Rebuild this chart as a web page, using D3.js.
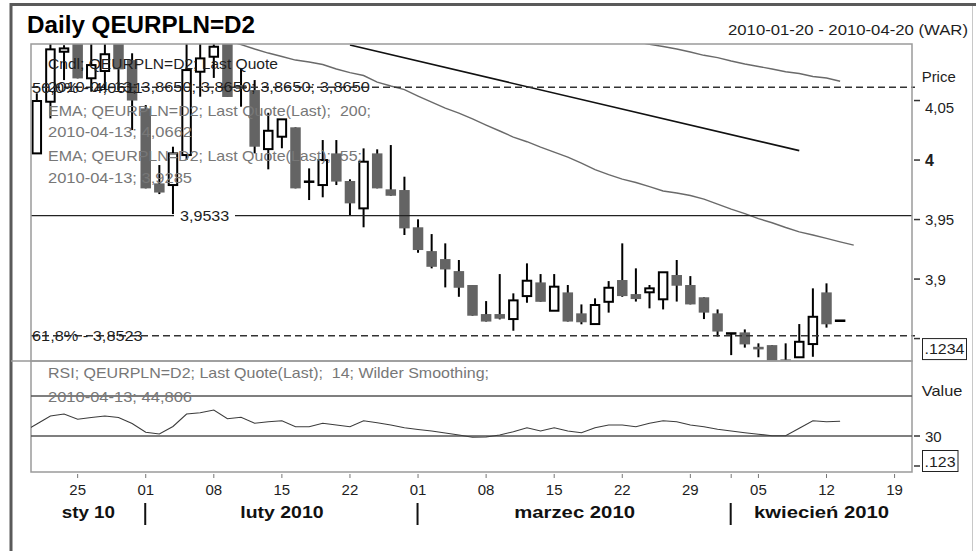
<!DOCTYPE html>
<html><head><meta charset="utf-8">
<script src="https://cdn.jsdelivr.net/npm/d3@7"></script>
<style>
body{margin:0;background:#fff}
svg{display:block}
text{font-family:"Liberation Sans",Arial,Helvetica,sans-serif;white-space:pre}
</style>
</head><body>
<svg id="c" width="976" height="551"></svg>
<script>
// ---------------- DATA ----------------
const dates = [
"2010-01-20","2010-01-21","2010-01-22","2010-01-25","2010-01-26","2010-01-27","2010-01-28","2010-01-29",
"2010-02-01","2010-02-02","2010-02-03","2010-02-04","2010-02-05","2010-02-08","2010-02-09","2010-02-10","2010-02-11","2010-02-12",
"2010-02-15","2010-02-16","2010-02-17","2010-02-18","2010-02-19","2010-02-22","2010-02-23","2010-02-24","2010-02-25","2010-02-26",
"2010-03-01","2010-03-02","2010-03-03","2010-03-04","2010-03-05","2010-03-08","2010-03-09","2010-03-10","2010-03-11","2010-03-12",
"2010-03-15","2010-03-16","2010-03-17","2010-03-18","2010-03-19","2010-03-22","2010-03-23","2010-03-24","2010-03-25","2010-03-26",
"2010-03-29","2010-03-30","2010-03-31","2010-04-01","2010-04-02","2010-04-05","2010-04-06","2010-04-07","2010-04-08","2010-04-09",
"2010-04-12","2010-04-13"];
const futureDates = ["2010-04-14","2010-04-15","2010-04-16","2010-04-19","2010-04-20"];

const open  = [4.0056,4.0490,4.0910,4.1050,4.0687,4.0748,4.1040,4.0840,4.0434,3.9804,
               3.9790,4.0042,4.0742,4.0868,4.1050,4.0630,4.0588,4.0092,4.0196,4.0275,
               3.9818,3.9790,4.0056,3.9824,3.9594,4.0056,3.9754,3.9748,3.9435,3.9235,
               3.9168,3.9067,3.8950,3.8706,3.8706,3.8664,3.8857,3.8972,3.8734,3.8888,
               3.8712,3.8622,3.8809,3.8992,3.8874,3.8889,3.8830,3.9034,3.8950,3.8847,
               3.8712,3.8543,3.8552,3.8431,3.8445,3.8325,3.8343,3.8454,3.8888,3.8650];
const high  = [4.0561,4.0990,4.0965,4.1100,4.1020,4.1010,4.1060,4.0897,4.0462,3.9958,
               4.0112,4.0985,4.1000,4.1000,4.1100,4.0770,4.0672,4.0397,4.0342,4.0275,
               3.9930,4.0168,4.0168,3.9838,4.0098,4.0090,4.0126,3.9860,3.9502,3.9378,
               3.9300,3.9160,3.8950,3.8815,3.9042,3.8880,3.9132,3.9042,3.9042,3.8950,
               3.8787,3.8838,3.8983,3.9300,3.9090,3.8950,3.9057,3.9160,3.9025,3.8847,
               3.8745,3.8543,3.8577,3.8460,3.8445,3.8460,3.8622,3.8922,3.8964,3.8650];
const low   = [4.0056,4.0350,4.0672,4.0686,4.0574,4.0588,4.0588,4.0252,3.9762,3.9714,
               3.9546,4.0000,4.0532,4.0690,4.0530,4.0448,4.0056,3.9922,4.0099,3.9762,
               3.9664,3.9687,3.9790,3.9538,3.9435,3.9762,3.9700,3.9370,3.9221,3.9090,
               3.8930,3.8851,3.8692,3.8643,3.8661,3.8566,3.8801,3.8809,3.8734,3.8643,
               3.8620,3.8622,3.8718,3.8851,3.8811,3.8754,3.8745,3.8811,3.8787,3.8664,
               3.8517,3.8361,3.8424,3.8343,3.8260,3.8260,3.8343,3.8347,3.8592,3.8650];
const close = [4.0496,4.0930,4.0938,4.0686,4.0798,4.0889,4.0762,4.0500,3.9762,3.9727,
               4.0056,4.0756,4.0854,4.0952,4.0530,4.0597,4.0112,4.0246,4.0342,3.9762,
               3.9818,4.0000,3.9819,3.9636,3.9986,3.9762,3.9700,3.9426,3.9244,3.9103,
               3.9081,3.8927,3.8692,3.8643,3.8667,3.8821,3.8986,3.8809,3.8936,3.8643,
               3.8637,3.8782,3.8927,3.8857,3.8832,3.8922,3.9057,3.8944,3.8787,3.8718,
               3.8559,3.8543,3.8451,3.8409,3.8280,3.8300,3.8473,3.8683,3.8620,3.8650];

// EMA 55 from 2010-02-09, EMA 200 from 2010-03-23
const ema55Start = "2010-02-09";
const ema55 = [4.1005,4.0970,4.0933,4.0899,4.0870,4.0840,4.0824,4.0803,4.0765,4.0735,4.0710,4.0655,4.0622,
               4.0592,4.0538,4.0487,4.0437,4.0395,4.0345,4.0294,4.0244,4.0193,4.0154,4.0109,4.0067,
               4.0025,3.9975,3.9920,3.9878,3.9840,3.9811,3.9777,3.9740,3.9723,3.9702,3.9672,3.9630,
               3.9588,3.9550,3.9508,3.9473,3.9433,3.9397,3.9370,3.9342,3.9313,3.9285];
const ema200Start = "2010-03-23";
const ema200 = [4.0995,4.0972,4.0954,4.0933,4.0908,4.0880,4.0861,4.0832,4.0807,4.0786,4.0765,
                4.0742,4.0727,4.0702,4.0689,4.0662];

const trendDates  = ["2010-02-22","2010-04-08"];
const trendValues = [4.0966,4.0079];

const supportLevel = 3.9533;
const fibPct    = ["50,0%","61,8%"];
const fibValues = [4.0611,3.8523];

const priceTicks = [3.9,3.95,4,4.05];
const priceBoxTick = 3.85, priceBoxLabel = ".1234";
const rsiTicks = [30];
const rsiLines = [70,30];
const rsiBoxTick = 0, rsiBoxLabel = ".123";

const rsiPrev = 34.0; // 2010-01-19
const rsi = [42,50,52,46.7,48.5,50,48.5,42.5,33.7,32,39.5,52,53.3,56,47.3,48.7,42.7,44.3,45.3,39.3,
             39.3,42.7,41,39.3,45.3,43.3,41,38.3,36.5,35,33,31,28.7,29,31,34.3,38.3,35,38.3,35,
             33.3,38.3,41,41,39.3,42.7,45.3,44.3,41,39.3,36.7,35,33.3,31.7,30.3,30.3,37.7,45.3,44.3,44.806];

const monthLabels = ["sty 10","luty 2010","marzec 2010","kwiecień 2010"];
const titleText = "Daily QEURPLN=D2";
const rangeText = "2010-01-20 - 2010-04-20 (WAR)";

// ---------------- DRAW ----------------
const svg = d3.select("#c");
const L = 31, R = 912, PT = 44, PB = 361, RB = 472;
const allDates = dates.concat(futureDates);
const idx = d => allDates.indexOf(d);
const x = d3.scaleLinear().domain([-0.5, allDates.length - 0.5]).range([30, 915]);
const y = d3.scaleLinear().domain([3.832, 4.0975]).range([360, 44]);
const yr = d3.scaleLinear().domain([-6, 105]).range([472, 361]);
const comma = (v, n) => d3.format("." + n + "f")(v).replace(".", ",");
const step = x(1) - x(0);

// outer frame
svg.append("line").attr("x1", 10).attr("x2", 976).attr("y1", 4.5).attr("y2", 4.5).attr("stroke", "#5a5a5a").attr("stroke-width", 3);
svg.append("line").attr("x1", 11).attr("x2", 11).attr("y1", 3).attr("y2", 551).attr("stroke", "#5a5a5a").attr("stroke-width", 3);
svg.append("line").attr("x1", 972.5).attr("x2", 972.5).attr("y1", 6).attr("y2", 551).attr("stroke", "#c8c8c8").attr("stroke-width", 1);

// clips
const defs = svg.append("defs");
defs.append("clipPath").attr("id", "cp").append("rect").attr("x", L).attr("y", PT).attr("width", R - L).attr("height", PB - PT);
defs.append("clipPath").attr("id", "cr").append("rect").attr("x", L).attr("y", PB).attr("width", R - L).attr("height", RB - PB);

// title
function T(s, x0, y0, o) {
  const t = svg.append("text").attr("x", x0).attr("y", y0).text(s)
    .attr("font-size", o.size || 15).attr("fill", o.fill || "#1e1e1e");
  if (o.bold) t.attr("font-weight", "bold");
  if (o.len) t.attr("textLength", o.len).attr("lengthAdjust", "spacingAndGlyphs");
  if (o.anchor) t.attr("text-anchor", o.anchor);
  return t;
}

// price panel contents
const gp = svg.append("g").attr("clip-path", "url(#cp)");
// candles
dates.forEach((d, i) => {
  const cx = x(i);
  gp.append("line").attr("x1", cx).attr("x2", cx).attr("y1", y(high[i])).attr("y2", y(low[i]))
    .attr("stroke", "#000").attr("stroke-width", 2);
  if (Math.abs(open[i] - close[i]) < 1e-9) {
    gp.append("line").attr("x1", cx - 5.25).attr("x2", cx + 5.25).attr("y1", y(open[i])).attr("y2", y(open[i]))
      .attr("stroke", "#000").attr("stroke-width", 2.5);
  } else if (close[i] > open[i]) {
    gp.append("rect").attr("x", cx - 4.25).attr("width", 8.5).attr("y", y(close[i])).attr("height", y(open[i]) - y(close[i]))
      .attr("fill", "#fff").attr("stroke", "#000").attr("stroke-width", 2);
  } else {
    gp.append("rect").attr("x", cx - 5.25).attr("width", 10.5).attr("y", y(open[i])).attr("height", y(close[i]) - y(open[i]))
      .attr("fill", "#646464");
  }
});
// EMA lines
const lineGen = d3.line().x(d => x(d[0])).y(d => y(d[1]));
gp.append("path").attr("d", lineGen(ema55.map((v, k) => [idx(ema55Start) + k, v])))
  .attr("fill", "none").attr("stroke", "#6a6a6a").attr("stroke-width", 1.4);
gp.append("path").attr("d", lineGen(ema200.map((v, k) => [idx(ema200Start) + k, v])))
  .attr("fill", "none").attr("stroke", "#6a6a6a").attr("stroke-width", 1.4);
// trend line
gp.append("path").attr("d", lineGen(trendDates.map((d, k) => [idx(d), trendValues[k]])))
  .attr("fill", "none").attr("stroke", "#111").attr("stroke-width", 1.6);
// support line
gp.append("line").attr("x1", L).attr("x2", R).attr("y1", y(supportLevel)).attr("y2", y(supportLevel))
  .attr("stroke", "#222").attr("stroke-width", 1.4);
// fib dashed lines
fibValues.forEach(v => {
  svg.append("line").attr("x1", L).attr("x2", R + 3).attr("y1", y(v)).attr("y2", y(v))
    .attr("stroke", "#333").attr("stroke-width", 1.5).attr("stroke-dasharray", "7,4");
});

// panel frames
svg.append("rect").attr("x", L).attr("y", PT).attr("width", R - L).attr("height", PB - PT)
  .attr("fill", "none").attr("stroke", "#9a9a9a").attr("stroke-width", 1.5);
svg.append("rect").attr("x", L).attr("y", PB).attr("width", R - L).attr("height", RB - PB)
  .attr("fill", "none").attr("stroke", "#9a9a9a").attr("stroke-width", 1.5);
svg.append("line").attr("x1", 11).attr("x2", L).attr("y1", PB).attr("y2", PB).attr("stroke", "#9a9a9a").attr("stroke-width", 1.5);

// RSI panel
const gr = svg.append("g").attr("clip-path", "url(#cr)");
rsiLines.forEach(v => {
  gr.append("line").attr("x1", L).attr("x2", R).attr("y1", yr(v)).attr("y2", yr(v))
    .attr("stroke", "#555").attr("stroke-width", 1.4);
});
const rsiPts = [[-1, rsiPrev]].concat(rsi.map((v, i) => [i, v]));
gr.append("path").attr("d", d3.line().x(d => x(d[0])).y(d => yr(d[1]))(rsiPts))
  .attr("fill", "none").attr("stroke", "#3c3c3c").attr("stroke-width", 1.1);

// texts: title & range
T(titleText, 27, 33, {size: 23, bold: true, len: 228, fill: "#000"});
T(rangeText, 728, 35, {size: 14, len: 240, fill: "#1e1e1e"});

// legend
const last = dates.length - 1;
const legend = [
  ["Cndl; QEURPLN=D2; Last Quote", "#1e1e1e", 68.5, 230],
  [dates[last] + "; " + [open[last], high[last], low[last], close[last]].map(v => comma(v, 4)).join("; "), "#1e1e1e", 92, 322],
  ["EMA; QEURPLN=D2; Last Quote(Last);  200;", "#777", 115.5, 323],
  [dates[last] + "; " + comma(ema200[ema200.length - 1], 4), "#777", 137, 144],
  ["EMA; QEURPLN=D2; Last Quote(Last);  55;", "#777", 160.5, 314],
  [dates[last] + "; " + comma(ema55[ema55.length - 1], 4), "#777", 183, 144]
];
legend.forEach(l => T(l[0], 48, l[2], {fill: l[1], len: l[3]}));
// fib labels
fibValues.forEach((v, k) => T(fibPct[k] + " - " + comma(v, 4), 32, y(v) + 5.5, {len: 110.7, fill: "#1e1e1e"}));
// support label
svg.append("rect").attr("x", 174).attr("y", y(supportLevel) - 8).attr("width", 61).attr("height", 16).attr("fill", "#fff");
T(comma(supportLevel, 4), 180, y(supportLevel) + 5.5, {len: 49.3, fill: "#1e1e1e"});

// RSI legend
T("RSI; QEURPLN=D2; Last Quote(Last);  14; Wilder Smoothing;", 48, 378, {fill: "#777", len: 441});
T(dates[last] + "; " + comma(rsi[last], 3), 48, 401.5, {fill: "#777", len: 144});

// right axis
const tick = (yy) => svg.append("line").attr("x1", 914).attr("x2", 920).attr("y1", yy).attr("y2", yy).attr("stroke", "#333").attr("stroke-width", 1.5);
T("Price", 921.7, 81.5, {len: 34});
priceTicks.forEach(v => {
  tick(y(v));
  const ly = Math.max(y(v), 107);
  const isInt = Math.abs(v - Math.round(v)) < 1e-9;
  T(isInt ? String(v) : String(v).replace(".", ","), 925, ly + 5.5, {size: isInt ? 16 : 15, bold: isInt});
});
tick(y(priceBoxTick));
svg.append("rect").attr("x", 922.5).attr("y", y(priceBoxTick)).attr("width", 44).attr("height", 21).attr("fill", "#fff").attr("stroke", "#222");
T(priceBoxLabel, 924.5, y(priceBoxTick) + 15.5, {len: 40});

T("Value", 921.7, 395.5, {len: 40.7});
rsiTicks.forEach(v => { tick(yr(v)); T(String(v), 925, yr(v) + 5.5, {}); });
tick(yr(rsiBoxTick));
svg.append("rect").attr("x", 922.5).attr("y", yr(rsiBoxTick) - 15.5).attr("width", 35.5).attr("height", 21).attr("fill", "#fff").attr("stroke", "#222");
T(rsiBoxLabel, 924.5, yr(rsiBoxTick) + 0.5, {len: 31});

// bottom axis
const parse = d3.utcParse("%Y-%m-%d");
const monthStarts = [];
allDates.forEach((d, i) => {
  const dt = parse(d);
  const isMon = dt.getUTCDay() === 1;
  const newMonth = i > 0 && parse(allDates[i - 1]).getUTCMonth() !== dt.getUTCMonth();
  if (newMonth) monthStarts.push(i);
  if (isMon || newMonth) {
    svg.append("line").attr("x1", x(i)).attr("x2", x(i)).attr("y1", 474).attr("y2", 478).attr("stroke", "#777").attr("stroke-width", 1);
  }
  if (isMon) T(d3.utcFormat("%d")(dt), x(i), 495, {anchor: "middle", size: 15});
});
monthStarts.forEach(i => {
  svg.append("line").attr("x1", x(i) - 0.5).attr("x2", x(i) - 0.5).attr("y1", 503).attr("y2", 525).attr("stroke", "#111").attr("stroke-width", 2);
});
const bounds = [L].concat(monthStarts.map(i => x(i))).concat([R]);
const monthLens = [53.3, 83.3, 120.7, 135];
monthLabels.forEach((m, k) => {
  T(m, (bounds[k] + bounds[k + 1]) / 2, 518, {anchor: "middle", size: 16, bold: true, len: monthLens[k], fill: "#111"});
});
</script>
</body></html>
